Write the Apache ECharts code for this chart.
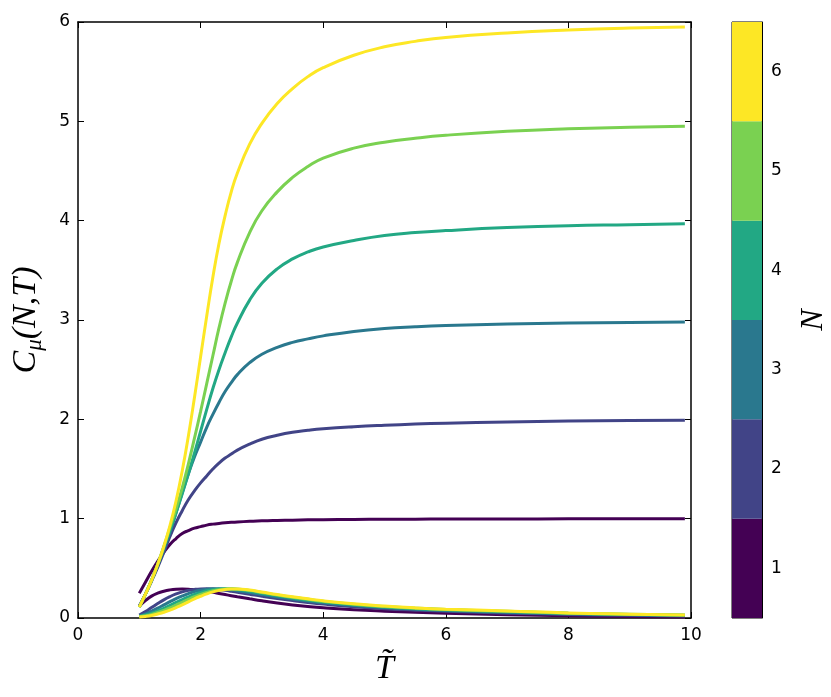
<!DOCTYPE html>
<html>
<head>
<meta charset="utf-8">
<script src="https://cdn.jsdelivr.net/npm/echarts@6/dist/echarts.min.js"></script>
<style>
  html, body { margin: 0; padding: 0; background: #fff; }
  #chart { width: 831px; height: 697px; }
</style>
</head>
<body>
<div id="chart"></div>
<script>
// temperature grid (T~)
const tGrid = [1, 1.1, 1.2, 1.3, 1.4, 1.5, 1.6, 1.7, 1.8, 1.9, 2.0, 2.1, 2.2, 2.3, 2.4, 2.5, 2.6, 2.8, 3.0, 3.25, 3.5, 3.75, 4, 4.5, 5, 5.5, 6, 7, 8, 9, 9.9]

// upper curves, one per N
const upper1 = [0.25, 0.36, 0.47, 0.57, 0.66, 0.74, 0.80, 0.85, 0.88, 0.905, 0.92, 0.935, 0.945, 0.952, 0.958, 0.963, 0.967, 0.973, 0.978, 0.982, 0.985, 0.988, 0.99, 0.992, 0.994, 0.995, 0.996, 0.997, 0.998, 0.999, 0.999]
const upper2 = [0.12, 0.24, 0.37, 0.51, 0.66, 0.82, 0.96, 1.08, 1.19, 1.28, 1.36, 1.43, 1.50, 1.56, 1.61, 1.65, 1.69, 1.75, 1.80, 1.84, 1.87, 1.89, 1.905, 1.925, 1.94, 1.952, 1.961, 1.974, 1.982, 1.987, 1.99]
const upper3 = [0.11, 0.24, 0.38, 0.53, 0.69, 0.86, 1.06, 1.26, 1.45, 1.62, 1.77, 1.92, 2.05, 2.17, 2.28, 2.37, 2.45, 2.57, 2.655, 2.725, 2.775, 2.81, 2.84, 2.885, 2.915, 2.932, 2.944, 2.96, 2.97, 2.976, 2.98]
const upper4 = [0.11, 0.24, 0.38, 0.54, 0.71, 0.88, 1.06, 1.25, 1.45, 1.66, 1.88, 2.10, 2.31, 2.50, 2.67, 2.83, 2.97, 3.20, 3.37, 3.515, 3.615, 3.685, 3.735, 3.80, 3.85, 3.88, 3.90, 3.93, 3.95, 3.96, 3.97]
const upper5 = [0.11, 0.24, 0.38, 0.54, 0.72, 0.91, 1.10, 1.31, 1.55, 1.81, 2.08, 2.36, 2.64, 2.92, 3.17, 3.39, 3.58, 3.88, 4.10, 4.29, 4.435, 4.545, 4.63, 4.73, 4.79, 4.83, 4.86, 4.90, 4.925, 4.94, 4.95]
const upper6 = [0.11, 0.24, 0.38, 0.54, 0.72, 0.93, 1.18, 1.48, 1.83, 2.22, 2.63, 3.04, 3.43, 3.77, 4.05, 4.29, 4.48, 4.77, 4.98, 5.18, 5.33, 5.45, 5.54, 5.665, 5.75, 5.805, 5.845, 5.89, 5.92, 5.94, 5.95]

// lower (bump) curves, one per N
const lower1 = [0.12, 0.175, 0.22, 0.25, 0.27, 0.283, 0.29, 0.292, 0.29, 0.284, 0.277, 0.268, 0.258, 0.247, 0.236, 0.225, 0.214, 0.193, 0.173, 0.151, 0.132, 0.116, 0.103, 0.083, 0.069, 0.058, 0.048, 0.033, 0.022, 0.015, 0.01]
const lower2 = [0.03, 0.065, 0.105, 0.145, 0.183, 0.215, 0.242, 0.263, 0.278, 0.288, 0.293, 0.294, 0.291, 0.285, 0.278, 0.269, 0.259, 0.239, 0.219, 0.196, 0.175, 0.156, 0.14, 0.114, 0.094, 0.079, 0.067, 0.049, 0.036, 0.027, 0.021]
const lower3 = [0.02, 0.042, 0.07, 0.10, 0.132, 0.164, 0.195, 0.222, 0.246, 0.266, 0.28, 0.289, 0.294, 0.294, 0.29, 0.283, 0.275, 0.256, 0.236, 0.212, 0.19, 0.17, 0.153, 0.126, 0.105, 0.089, 0.076, 0.057, 0.042, 0.032, 0.025]
const lower4 = [0.015, 0.03, 0.048, 0.072, 0.098, 0.127, 0.157, 0.186, 0.213, 0.238, 0.258, 0.274, 0.285, 0.291, 0.294, 0.292, 0.287, 0.27, 0.249, 0.225, 0.202, 0.181, 0.163, 0.133, 0.111, 0.095, 0.082, 0.063, 0.047, 0.035, 0.028]
const lower5 = [0.012, 0.022, 0.036, 0.055, 0.077, 0.102, 0.13, 0.158, 0.187, 0.214, 0.238, 0.258, 0.274, 0.285, 0.291, 0.294, 0.292, 0.278, 0.257, 0.232, 0.209, 0.188, 0.169, 0.138, 0.116, 0.099, 0.086, 0.067, 0.049, 0.037, 0.03]
const lower6 = [0.01, 0.016, 0.026, 0.041, 0.058, 0.079, 0.105, 0.132, 0.162, 0.193, 0.219, 0.243, 0.263, 0.278, 0.288, 0.293, 0.293, 0.281, 0.262, 0.237, 0.214, 0.193, 0.173, 0.143, 0.12, 0.102, 0.089, 0.071, 0.051, 0.039, 0.031]

const nValues = [1, 2, 3, 4, 5, 6]
const nColors = ['#440154', '#414487', '#2a788e', '#22a884', '#7ad151', '#fde725']
const xTicks = [0, 2, 4, 6, 8, 10]
const yTicks = [0, 1, 2, 3, 4, 5, 6]
const cbLabels = ['1', '2', '3', '4', '5', '6']

const uppers = [upper1, upper2, upper3, upper4, upper5, upper6]
const lowers = [lower1, lower2, lower3, lower4, lower5, lower6]

const tickFont = { fontFamily: 'DejaVu Sans', fontSize: 17, color: '#000' }
const mathFont = 'Liberation Serif'

function pairs(arr) {
  return tGrid.map((t, i) => [t, arr[i]])
}

const series = []
nValues.forEach((n, k) => {
  [uppers[k], lowers[k]].forEach(arr => {
    series.push({
      type: 'line',
      name: 'N=' + n,
      xAxisIndex: 0,
      yAxisIndex: 0,
      data: pairs(arr),
      smooth: 0.5,
      showSymbol: false,
      lineStyle: { color: nColors[k], width: 3 },
      itemStyle: { color: nColors[k] },
      animation: false
    })
  })
})

// colorbar: stacked bars of height 1
nValues.forEach((n, k) => {
  series.push({
    type: 'bar',
    xAxisIndex: 2,
    yAxisIndex: 2,
    stack: 'cb',
    barWidth: '100%',
    data: [1],
    itemStyle: { color: nColors[k] },
    animation: false
  })
})

const frameLine = { show: true, onZero: false, lineStyle: { color: '#000', width: 1.5 } }
const inTick = { show: true, inside: true, length: 6, lineStyle: { color: '#000', width: 1 } }

const chart = echarts.init(document.getElementById('chart'))
chart.setOption({
  backgroundColor: '#fff',
  grid: [
    { left: 78, top: 22, width: 613, height: 596 },
    { left: 732, top: 22, width: 30, height: 596, show: true, borderColor: '#000', borderWidth: 1 }
  ],
  xAxis: [
    {
      type: 'value', gridIndex: 0, min: 0, max: 10, interval: 2, position: 'bottom',
      axisLine: frameLine, axisTick: inTick, splitLine: { show: false },
      axisLabel: Object.assign({ margin: 9, customValues: xTicks }, tickFont),
      name: 'T\u0303', nameLocation: 'middle', nameGap: 34,
      nameTextStyle: { fontFamily: mathFont, fontStyle: 'italic', fontSize: 34, color: '#000' }
    },
    {
      type: 'value', gridIndex: 0, min: 0, max: 10, interval: 2, position: 'top',
      axisLine: frameLine, axisTick: inTick, splitLine: { show: false }, axisLabel: { show: false }
    },
    {
      type: 'category', gridIndex: 1, data: ['cb'], show: false
    }
  ],
  yAxis: [
    {
      type: 'value', gridIndex: 0, min: 0, max: 6, interval: 1, position: 'left',
      axisLine: frameLine, axisTick: inTick, splitLine: { show: false },
      axisLabel: Object.assign({ margin: 8, customValues: yTicks }, tickFont),
      name: '{c|C}{s|\u03bc}{c|(}{i|N}{c|,}{i|T}{c|)}', nameLocation: 'middle', nameGap: 32, nameRotate: 90,
      nameTextStyle: {
        rich: {
          c: { fontFamily: mathFont, fontStyle: 'italic', fontSize: 34, color: '#000' },
          i: { fontFamily: mathFont, fontStyle: 'italic', fontSize: 34, color: '#000' },
          s: { fontFamily: mathFont, fontStyle: 'italic', fontSize: 23, color: '#000', padding: [16, 0, 0, 0] }
        }
      }
    },
    {
      type: 'value', gridIndex: 0, min: 0, max: 6, interval: 1, position: 'right',
      axisLine: frameLine, axisTick: inTick, splitLine: { show: false }, axisLabel: { show: false }
    },
    {
      type: 'value', gridIndex: 1, min: 0, max: 6, position: 'right',
      axisLine: { show: true, onZero: false, lineStyle: { color: '#000', width: 1 } },
      axisTick: { show: true, inside: true, length: 6, customValues: [0.5, 1.5, 2.5, 3.5, 4.5, 5.5], lineStyle: { color: '#000' } },
      splitLine: { show: false },
      axisLabel: Object.assign({
        margin: 9,
        customValues: [0.5, 1.5, 2.5, 3.5, 4.5, 5.5],
        formatter: v => cbLabels[Math.round(v - 0.5)]
      }, tickFont),
      name: 'N', nameLocation: 'middle', nameGap: 36, nameRotate: 90,
      nameTextStyle: { fontFamily: mathFont, fontStyle: 'italic', fontSize: 32, color: '#000' }
    }
  ],
  series: series
})
</script>
</body>
</html>
